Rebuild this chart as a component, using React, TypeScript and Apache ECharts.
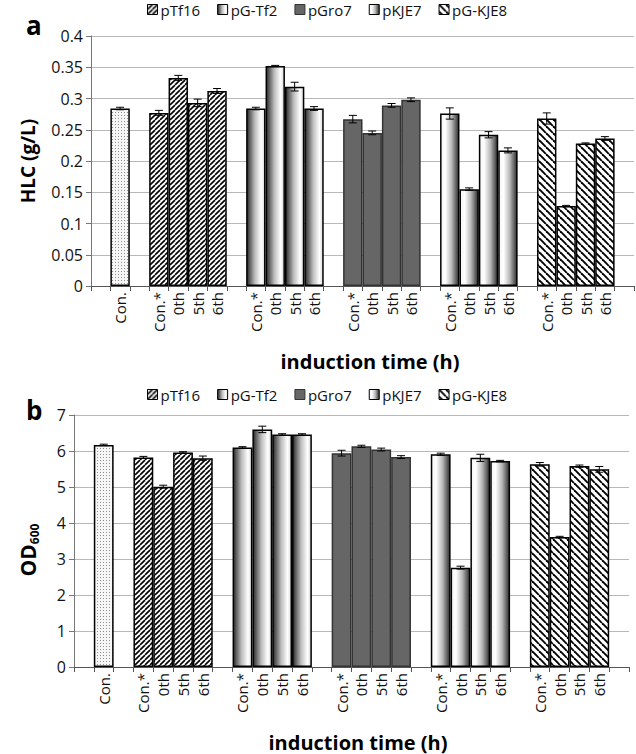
import React, { useEffect, useRef } from 'react';
import * as echarts from 'echarts';

// ---------- data ----------
const groupNames = ['pTf16', 'pG-Tf2', 'pGro7', 'pKJE7', 'pG-KJE8'];
const timeLabels = ['Con.*', '0th', '5th', '6th'];
const controlLabel = 'Con.';

const hlcControl = 0.284;
const hlcControlErr = 0.002;
const hlcValues = [
  [0.277, 0.333, 0.293, 0.312],
  [0.284, 0.352, 0.319, 0.284],
  [0.267, 0.245, 0.289, 0.298],
  [0.276, 0.155, 0.242, 0.217],
  [0.268, 0.128, 0.228, 0.236],
];
const hlcErrors = [
  [0.004, 0.004, 0.006, 0.004],
  [0.002, 0.001, 0.007, 0.003],
  [0.006, 0.003, 0.003, 0.003],
  [0.009, 0.002, 0.005, 0.004],
  [0.009, 0.001, 0.001, 0.003],
];

const odControl = 6.17;
const odControlErr = 0.02;
const odValues = [
  [5.82, 5.01, 5.96, 5.8],
  [6.1, 6.6, 6.46, 6.46],
  [5.94, 6.13, 6.04, 5.83],
  [5.91, 2.76, 5.81, 5.72],
  [5.63, 3.61, 5.58, 5.49],
];
const odErrors = [
  [0.03, 0.04, 0.02, 0.06],
  [0.02, 0.09, 0.02, 0.02],
  [0.08, 0.03, 0.04, 0.04],
  [0.03, 0.04, 0.1, 0.02],
  [0.05, 0.02, 0.03, 0.08],
];

const hlcTicks = { min: 0, max: 0.4, interval: 0.05 };
const odTicks = { min: 0, max: 7, interval: 1 };

// category layout: [gap, Con., gap, 4 bars, gap, 4 bars, gap, ... , gap]
const CONTROL_IDX = 1;
const GROUP_START = 3;
const GROUP_STRIDE = timeLabels.length + 1;
const categoryLabels: string[] = (() => {
  const arr: string[] = ['', controlLabel, ''];
  groupNames.forEach(() => {
    timeLabels.forEach((t) => arr.push(t));
    arr.push('');
  });
  return arr;
})();
const categoryKeys = categoryLabels.map((_, i) => 'c' + i);

const FONT = '"Open Sans", "Noto Sans", sans-serif';

function makeHatch(dir: 'up' | 'down', size: number, lw: number): HTMLCanvasElement {
  const c = document.createElement('canvas');
  c.width = size;
  c.height = size;
  const ctx = c.getContext('2d')!;
  ctx.fillStyle = '#fff';
  ctx.fillRect(0, 0, size, size);
  ctx.strokeStyle = '#000';
  ctx.lineWidth = lw;
  for (const k of [-1, 0, 1]) {
    ctx.beginPath();
    if (dir === 'up') {
      ctx.moveTo(k * size, size);
      ctx.lineTo(k * size + size, 0);
    } else {
      ctx.moveTo(k * size, 0);
      ctx.lineTo(k * size + size, size);
    }
    ctx.stroke();
  }
  return c;
}

function makeDots(): HTMLCanvasElement {
  const c = document.createElement('canvas');
  c.width = 3;
  c.height = 3;
  const ctx = c.getContext('2d')!;
  ctx.fillStyle = '#f6f6f6';
  ctx.fillRect(0, 0, 3, 3);
  ctx.fillStyle = '#8f8f8f';
  ctx.fillRect(1, 1, 1, 1);
  return c;
}

function pattern(c: HTMLCanvasElement) {
  return { image: c, repeat: 'repeat', imageWidth: c.width, imageHeight: c.height } as any;
}

export default function App() {
  const ref = useRef<HTMLDivElement>(null);

  useEffect(() => {
    if (!ref.current) return;
    const chart = echarts.init(ref.current, null, { renderer: 'svg' });

    const dots = pattern(makeDots());
    const hatchUp = pattern(makeHatch('up', 5, 1.6));
    const hatchDown = pattern(makeHatch('down', 7, 1.9));
    const gradTf2 = new echarts.graphic.LinearGradient(0, 0, 1, 0, [
      { offset: 0, color: '#2a2a2a' },
      { offset: 0.45, color: '#bdbdbd' },
      { offset: 0.8, color: '#ffffff' },
      { offset: 1, color: '#d8d8d8' },
    ]);
    const gradKje7 = new echarts.graphic.LinearGradient(0, 0, 1, 0, [
      { offset: 0, color: '#f4f4f4' },
      { offset: 0.25, color: '#ffffff' },
      { offset: 0.6, color: '#b8b8b8' },
      { offset: 1, color: '#2e2e2e' },
    ]);
    const groupFills: any[] = [hatchUp, gradTf2, '#666666', gradKje7, hatchDown];
    const groupBorders = ['#000', '#000', '#333', '#000', '#000'];

    const series: any[] = [];
    const buildPanel = (
      panel: number,
      control: number,
      controlErr: number,
      values: number[][],
      errors: number[][],
    ) => {
      const n = categoryKeys.length;
      const conData: any[] = new Array(n).fill('-');
      conData[CONTROL_IDX] = control;
      series.push({
        type: 'bar',
        name: controlLabel,
        xAxisIndex: panel,
        yAxisIndex: panel,
        stack: 'p' + panel,
        barCategoryGap: '0%',
        data: conData,
        itemStyle: { color: dots, borderColor: '#000', borderWidth: 1.5 },
      });
      const errData: any[] = [[CONTROL_IDX, control, controlErr]];
      groupNames.forEach((g, gi) => {
        const d: any[] = new Array(n).fill('-');
        values[gi].forEach((v, j) => {
          const idx = GROUP_START + gi * GROUP_STRIDE + j;
          d[idx] = v;
          errData.push([idx, v, errors[gi][j]]);
        });
        series.push({
          type: 'bar',
          name: g,
          xAxisIndex: panel,
          yAxisIndex: panel,
          stack: 'p' + panel,
          barCategoryGap: '0%',
          data: d,
          itemStyle: { color: groupFills[gi], borderColor: groupBorders[gi], borderWidth: 1.5 },
        });
      });
      series.push({
        type: 'custom',
        name: 'err' + panel,
        xAxisIndex: panel,
        yAxisIndex: panel,
        z: 10,
        encode: { x: 0, y: 1 },
        data: errData,
        renderItem: (_p: any, api: any) => {
          const x = api.value(0);
          const v = api.value(1);
          const e = api.value(2);
          const top = api.coord([x, v + e]);
          const bot = api.coord([x, v - e]);
          const hw = 4;
          const st = { stroke: '#000', lineWidth: 1 };
          return {
            type: 'group',
            children: [
              { type: 'line', shape: { x1: top[0], y1: top[1], x2: bot[0], y2: bot[1] }, style: st },
              { type: 'line', shape: { x1: top[0] - hw, y1: top[1], x2: top[0] + hw, y2: top[1] }, style: st },
              { type: 'line', shape: { x1: bot[0] - hw, y1: bot[1], x2: bot[0] + hw, y2: bot[1] }, style: st },
            ],
          };
        },
      });
    };
    buildPanel(0, hlcControl, hlcControlErr, hlcValues, hlcErrors);
    buildPanel(1, odControl, odControlErr, odValues, odErrors);

    const xAxisBase = (gridIndex: number) => ({
      type: 'category',
      gridIndex,
      data: categoryKeys,
      axisLine: { lineStyle: { color: '#555', width: 1 } },
      axisTick: { show: true, interval: 0, length: 5, lineStyle: { color: '#555' } },
      axisLabel: {
        interval: 0,
        rotate: 90,
        margin: 6,
        fontSize: 15,
        color: '#111',
        fontFamily: FONT,
        formatter: (_v: string, i: number) => categoryLabels[i],
      },
      splitLine: { show: false },
    });
    const yAxisBase = (gridIndex: number, t: { min: number; max: number; interval: number }) => ({
      type: 'value',
      gridIndex,
      min: t.min,
      max: t.max,
      interval: t.interval,
      axisLine: { show: true, lineStyle: { color: '#777' } },
      axisTick: { show: true, length: 5, lineStyle: { color: '#777' } },
      axisLabel: { fontSize: 16, color: '#111', fontFamily: FONT, margin: 8 },
      splitLine: { lineStyle: { color: '#b8b8b8', width: 1 } },
    });

    const legendBase = (top: number) => ({
      top,
      left: 147,
      padding: 0,
      itemGap: 17,
      itemWidth: 10,
      itemHeight: 10,
      icon: 'rect',
      data: groupNames,
      selectedMode: false,
      itemStyle: { borderWidth: 1 },
      textStyle: { fontSize: 15, color: '#111', fontFamily: FONT, padding: [0, 0, 0, -2] },
    });

    chart.setOption({
      animation: false,
      backgroundColor: '#fff',
      legend: [legendBase(2), legendBase(387)],
      grid: [
        { left: 91, top: 36, width: 543, height: 250, containLabel: false },
        { left: 74, top: 415, width: 555, height: 252, containLabel: false },
      ],
      xAxis: [xAxisBase(0), xAxisBase(1)],
      yAxis: [yAxisBase(0, hlcTicks), yAxisBase(1, odTicks)],
      series,
      graphic: [
        { type: 'text', left: 26, top: 12, style: { text: 'a', fontSize: 26, fontWeight: 'bold', fontFamily: FONT, fill: '#000' } },
        { type: 'text', left: 26, top: 397, style: { text: 'b', fontSize: 26, fontWeight: 'bold', fontFamily: FONT, fill: '#000' } },
        {
          type: 'text',
          x: 28,
          y: 161,
          rotation: Math.PI / 2,
          style: { text: 'HLC (g/L)', fontSize: 19, fontWeight: 'bold', fontFamily: FONT, fill: '#000', align: 'center', verticalAlign: 'middle' },
        },
        {
          type: 'text',
          x: 28,
          y: 550,
          rotation: Math.PI / 2,
          style: {
            text: '{a|OD}{b|600}',
            align: 'center',
            verticalAlign: 'middle',
            rich: {
              a: { fontSize: 21, fontWeight: 'bold', fontFamily: FONT, fill: '#000', lineHeight: 24 },
              b: { fontSize: 12, fontWeight: 'bold', fontFamily: FONT, fill: '#000', verticalAlign: 'bottom', lineHeight: 24, padding: [8, 0, 0, 0] },
            },
          },
        },
        {
          type: 'text',
          x: 370,
          y: 361,
          style: { text: 'induction time (h)', fontSize: 20, fontWeight: 'bold', fontFamily: FONT, fill: '#000', align: 'center', verticalAlign: 'middle' },
        },
        {
          type: 'text',
          x: 358,
          y: 742,
          style: { text: 'induction time (h)', fontSize: 20, fontWeight: 'bold', fontFamily: FONT, fill: '#000', align: 'center', verticalAlign: 'middle' },
        },
      ],
    });

    return () => chart.dispose();
  }, []);

  return (
    <div
      ref={ref}
      style={{ position: 'absolute', left: 0, top: 0, width: 636, height: 754, background: '#fff' }}
    />
  );
}
